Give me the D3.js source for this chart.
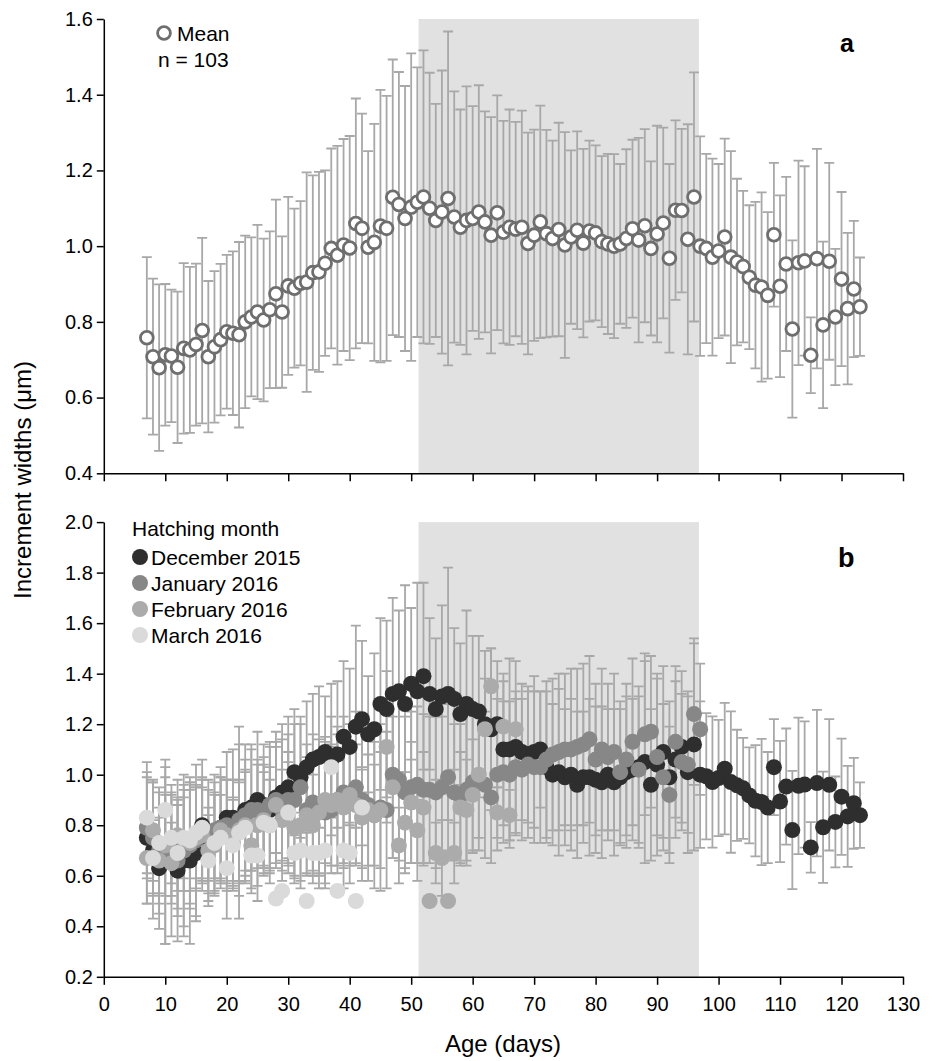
<!DOCTYPE html>
<meta charset="utf-8">
<title>Increment widths by age</title>
<style>
  body { margin: 0; background: #fff; }
  svg { font-family: "Liberation Sans", Arial, sans-serif; }
  .axis path, .axis line { stroke: #000; stroke-width: 1.5px; }
  .axis text { font-size: 20px; fill: #000; font-family: "Liberation Sans", Arial, sans-serif; }
  .err { stroke: #a8a8a8; stroke-width: 1.8px; fill: none; }
</style>
<body>
<script src="https://d3js.org/d3.v7.min.js"></script>
<script>
// ---- data (age in days starts at 7 for every series) ----
const firstDay = 7;

// panel a : all fish, mean and SD
const meanAll = [0.758,0.708,0.679,0.713,0.71,0.68,0.73,0.726,0.74,0.777,0.708,0.734,0.753,0.774,0.77,0.766,0.80,0.813,0.826,0.805,
  0.832,0.874,0.826,0.895,0.889,0.902,0.905,0.93,0.932,0.955,0.994,0.976,1.003,0.995,1.06,1.047,0.997,1.01,1.053,1.047,
  1.129,1.11,1.073,1.103,1.116,1.13,1.10,1.068,1.09,1.126,1.077,1.05,1.068,1.073,1.09,1.064,1.029,1.088,1.037,1.05,
  1.045,1.05,1.007,1.029,1.064,1.033,1.02,1.044,1.003,1.024,1.042,1.008,1.04,1.035,1.012,1.006,1.0,1.006,1.02,1.046,
  1.016,1.054,0.994,1.032,1.061,0.968,1.095,1.094,1.018,1.13,1.0,0.994,0.971,0.987,1.024,0.971,0.958,0.946,0.918,0.897,
  0.892,0.87,1.03,0.894,0.953,0.781,0.956,0.961,0.712,0.967,0.792,0.96,0.813,0.913,0.835,0.887,0.84];
const sdAll = [0.213,0.206,0.22,0.187,0.175,0.2,0.225,0.219,0.214,0.245,0.2,0.2,0.2,0.203,0.216,0.245,0.228,0.21,0.23,0.215,
  0.207,0.249,0.2,0.235,0.21,0.217,0.29,0.257,0.264,0.245,0.264,0.289,0.28,0.296,0.33,0.303,0.254,0.313,0.36,0.35,
  0.364,0.35,0.35,0.406,0.356,0.387,0.358,0.308,0.374,0.441,0.332,0.311,0.354,0.297,0.335,0.292,0.312,0.31,0.294,0.311,
  0.283,0.308,0.293,0.279,0.307,0.274,0.259,0.282,0.298,0.229,0.261,0.249,0.239,0.231,0.226,0.238,0.243,0.211,0.236,0.235,
  0.27,0.255,0.23,0.286,0.252,0.249,0.237,0.216,0.304,0.329,0.29,0.25,0.26,0.23,0.26,0.28,0.22,0.2,0.19,0.22,
  0.25,0.22,0.19,0.24,0.23,0.234,0.27,0.25,0.1,0.29,0.22,0.26,0.18,0.23,0.2,0.18,0.13];

// panel b : by hatching month
const decMean = [0.75,0.70,0.63,0.66,0.66,0.62,0.66,0.66,0.69,0.80,0.74,0.77,0.79,0.83,0.83,0.81,0.86,0.87,0.90,0.88,
  0.86,0.91,0.93,0.95,1.01,0.99,1.03,1.06,1.07,1.09,1.06,1.08,1.15,1.11,1.19,1.22,1.16,1.18,1.28,1.26,
  1.32,1.33,1.28,1.36,1.33,1.39,1.32,1.26,1.31,1.32,1.30,1.24,1.28,1.26,1.25,1.20,1.18,1.20,1.10,1.10,
  1.11,1.09,1.08,1.09,1.10,1.03,1.00,1.01,0.99,1.00,0.96,0.99,0.99,0.98,0.97,1.00,0.97,0.99,1.01,1.02,
  1.03,1.05,0.96,1.04,1.09,0.99,1.06,1.11,1.01,1.12,1.0,0.994,0.971,0.987,1.024,0.971,0.958,0.946,0.918,0.897,
  0.892,0.87,1.03,0.894,0.953,0.781,0.956,0.961,0.712,0.967,0.792,0.96,0.813,0.913,0.835,0.887,0.84];
const decSd = [0.26,0.27,0.24,0.33,0.30,0.28,0.30,0.33,0.27,0.26,0.24,0.23,0.24,0.26,0.27,0.38,0.26,0.25,0.27,0.24,
  0.25,0.26,0.27,0.28,0.25,0.24,0.26,0.26,0.28,0.22,0.30,0.29,0.30,0.31,0.40,0.31,0.23,0.30,0.34,0.35,
  0.38,0.32,0.47,0.30,0.43,0.37,0.30,0.28,0.36,0.50,0.28,0.28,0.37,0.29,0.30,0.29,0.32,0.25,0.30,0.36,
  0.34,0.27,0.27,0.30,0.23,0.30,0.28,0.33,0.27,0.30,0.29,0.26,0.31,0.29,0.30,0.26,0.29,0.27,0.30,0.28,
  0.32,0.40,0.30,0.36,0.34,0.30,0.31,0.30,0.32,0.42,0.29,0.25,0.26,0.23,0.26,0.28,0.22,0.2,0.19,0.22,
  0.25,0.22,0.19,0.24,0.23,0.234,0.27,0.25,0.1,0.29,0.22,0.26,0.18,0.23,0.2,0.18,0.13];

const janMean = [0.79,0.75,0.70,0.68,0.72,0.66,0.70,0.72,0.74,0.78,0.76,0.78,0.79,0.80,0.78,0.82,0.84,0.86,0.86,0.85,
  0.88,0.90,0.86,0.90,0.90,0.95,0.86,0.89,0.87,0.85,0.86,0.90,0.93,0.92,0.95,0.90,0.88,0.84,0.87,0.86,
  1.00,0.98,0.93,0.95,0.96,0.94,0.94,0.93,0.95,0.99,0.93,0.92,0.94,0.97,0.97,0.96,0.91,1.00,1.01,1.00,
  1.03,1.02,1.04,1.03,1.03,1.06,1.08,1.09,1.10,1.10,1.11,1.12,1.14,1.06,1.10,1.07,1.09,1.01,1.06,1.13,
  1.02,1.16,1.17,1.07,0.99,0.92,1.13,1.05,1.04,1.24,1.18];
const janSd = [0.20,0.22,0.25,0.35,0.20,0.22,0.30,0.25,0.30,0.20,0.18,0.19,0.20,0.18,0.20,0.30,0.22,0.24,0.20,0.22,
  0.25,0.21,0.28,0.26,0.30,0.25,0.26,0.27,0.27,0.28,0.25,0.29,0.30,0.28,0.30,0.32,0.30,0.29,0.33,0.31,
  0.33,0.32,0.30,0.30,0.31,0.30,0.29,0.30,0.28,0.29,0.27,0.28,0.30,0.28,0.27,0.29,0.26,0.30,0.28,0.29,
  0.27,0.28,0.29,0.30,0.30,0.31,0.30,0.31,0.30,0.32,0.31,0.32,0.33,0.30,0.32,0.29,0.31,0.28,0.30,0.33,
  0.29,0.32,0.30,0.31,0.29,0.27,0.30,0.27,0.27,0.28,0.26];

const febMean = [0.67,0.78,0.66,0.72,0.65,0.76,0.74,0.73,0.75,0.76,0.70,0.72,0.78,0.76,0.73,0.78,0.80,0.72,0.80,0.82,
  0.80,0.88,0.82,0.85,0.79,0.80,0.84,0.80,0.85,0.90,0.88,0.90,0.87,0.92,0.88,0.83,0.86,0.84,0.86,1.11,
  0.95,0.72,0.81,0.89,0.78,0.87,0.50,0.69,0.67,0.50,0.69,0.87,0.86,0.92,1.00,1.18,1.35,0.85,1.19,0.84,
  1.18];
const febSd = [0.18,0.20,0.17,0.20,0.16,0.22,0.20,0.24,0.20,0.19,0.17,0.20,0.21,0.22,0.18,0.20,0.22,0.17,0.24,0.22,
  0.23,0.25,0.20,0.24,0.20,0.22,0.23,0.20,0.24,0.25,0.24,0.26,0.22,0.25,0.24,0.20,0.22,0.20,0.23,0.30,
  0.28,0.15,0.20,0.24,0.20,0.22,null,0.12,0.15,null,0.12,0.22,0.20,0.22,0.25,0.20,0.15,0.10,0.18,0.10,
  0.15];

const marMean = [0.83,0.67,0.73,0.86,0.75,0.69,0.75,0.74,0.77,0.79,0.66,0.73,0.75,0.63,0.72,0.77,0.79,0.68,0.68,0.81,
  0.80,0.51,0.54,0.85,0.69,0.70,0.50,0.69,0.69,0.70,1.03,0.54,0.70,0.69,0.50,0.87];
const marSd = [0.22,0.15,0.20,0.20,0.18,0.22,0.16,0.20,0.18,0.20,0.18,0.20,0.17,0.20,0.18,0.20,0.22,0.15,0.18,0.20,
  0.18,null,null,0.20,0.12,0.15,null,0.12,0.14,0.15,0.20,null,0.15,0.12,null,0.15];

const seriesNames = ['December 2015', 'January 2016', 'February 2016', 'March 2016'];
const seriesColors = ['#2e2e2e', '#878787', '#ababab', '#dadada'];
const seriesMeans = [decMean, janMean, febMean, marMean];
const seriesSds = [decSd, janSd, febSd, marSd];

const xTicks = [0,10,20,30,40,50,60,70,80,90,100,110,120,130];
const yTicksA = [0.4,0.6,0.8,1.0,1.2,1.4,1.6];
const yTicksB = [0.2,0.4,0.6,0.8,1.0,1.2,1.4,1.6,1.8,2.0];
const shadeDays = [51.2, 96.8];

// ---- layout ----
const svg = d3.select('body').append('svg').attr('width', 935).attr('height', 1061);

const x = d3.scaleLinear().domain([0, 130]).range([103.8, 903]);
const yA = d3.scaleLinear().domain([0.4, 1.6]).range([473.3, 19]);
const yB = d3.scaleLinear().domain([0.2, 2.0]).range([976.8, 522.1]);

function shade(y) {
  const [lo, hi] = y.domain();
  svg.append('rect')
    .attr('x', x(shadeDays[0])).attr('width', x(shadeDays[1]) - x(shadeDays[0]))
    .attr('y', y(hi)).attr('height', y(lo) - y(hi))
    .attr('fill', '#e1e1e1');
}

function errorBars(g, y, means, sds) {
  const pts = means.map((m, i) => ({ day: firstDay + i, m: m, sd: sds[i] }))
    .filter(d => d.sd != null);
  g.selectAll(null).data(pts).join('path')
    .attr('class', 'err')
    .attr('d', d => {
      const cx = x(d.day), t = y(d.m + d.sd), b = y(d.m - d.sd);
      return `M${cx},${t}V${b}M${cx - 5},${t}H${cx + 5}M${cx - 5},${b}H${cx + 5}`;
    });
}

function axes(y, ticks, showX) {
  svg.append('g').attr('class', 'axis')
    .attr('transform', `translate(0,${y.range()[0]})`)
    .call(d3.axisBottom(x).tickValues(xTicks).tickSize(8).tickSizeOuter(0).tickPadding(12)
      .tickFormat(showX ? d3.format('d') : ''));
  svg.append('g').attr('class', 'axis')
    .attr('transform', `translate(${x(0)},0)`)
    .call(d3.axisLeft(y).tickValues(ticks).tickSize(7).tickSizeOuter(0).tickPadding(4)
      .tickFormat(d3.format('.1f')));
}

// ---- panel a ----
shade(yA);
const ga = svg.append('g');
errorBars(ga, yA, meanAll, sdAll);
ga.selectAll('circle').data(meanAll).join('circle')
  .attr('cx', (d, i) => x(firstDay + i)).attr('cy', d => yA(d)).attr('r', 6.4)
  .attr('fill', '#fff').attr('stroke', '#6e6e6e').attr('stroke-width', 2.8);
axes(yA, yTicksA, false);

svg.append('circle').attr('cx', 164).attr('cy', 33).attr('r', 6.4)
  .attr('fill', '#fff').attr('stroke', '#6e6e6e').attr('stroke-width', 2.8);
svg.append('text').attr('x', 177).attr('y', 41).attr('font-size', 21).text('Mean');
svg.append('text').attr('x', 158).attr('y', 67).attr('font-size', 21).text('n = 103');
svg.append('text').attr('x', 840).attr('y', 52).attr('font-size', 25).attr('font-weight', 'bold').text('a');

// ---- panel b ----
shade(yB);
const gb = svg.append('g');
seriesMeans.forEach((m, k) => errorBars(gb, yB, m, seriesSds[k]));
seriesMeans.forEach((m, k) => {
  gb.append('g').selectAll('circle').data(m).join('circle')
    .attr('cx', (d, i) => x(firstDay + i)).attr('cy', d => yB(d)).attr('r', 8)
    .attr('fill', seriesColors[k]);
});
axes(yB, yTicksB, true);

svg.append('text').attr('x', 132).attr('y', 536).attr('font-size', 21).text('Hatching month');
const leg = svg.append('g').selectAll('g').data(seriesNames).join('g')
  .attr('transform', (d, i) => `translate(140,${557 + i * 26})`);
leg.append('circle').attr('r', 8).attr('fill', (d, i) => seriesColors[i]);
leg.append('text').attr('x', 11).attr('y', 7.5).attr('font-size', 21).text(d => d);
svg.append('text').attr('x', 838).attr('y', 567).attr('font-size', 27).attr('font-weight', 'bold').text('b');

// ---- axis titles ----
svg.append('text').attr('transform', 'translate(31,480) rotate(-90)')
  .attr('text-anchor', 'middle').attr('font-size', 24).text('Increment widths (μm)');
svg.append('text').attr('x', 503).attr('y', 1052)
  .attr('text-anchor', 'middle').attr('font-size', 24).text('Age (days)');
</script>
</body>
